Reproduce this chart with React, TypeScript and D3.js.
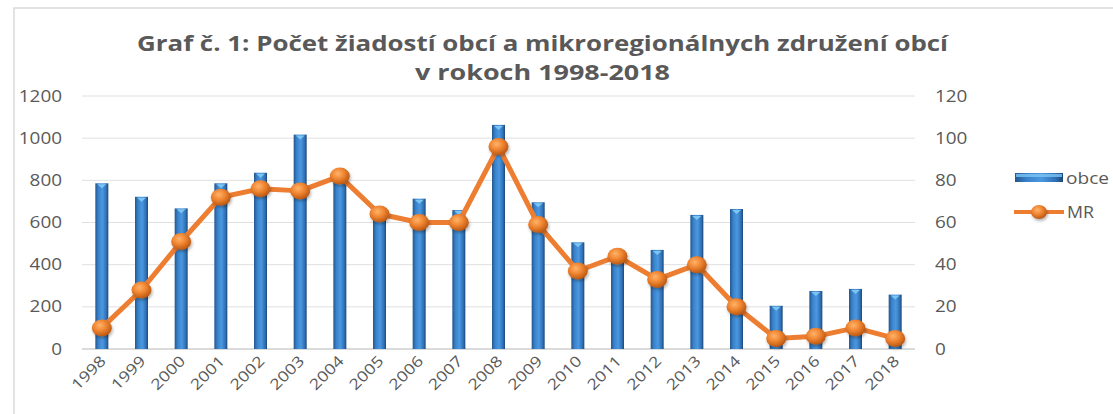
import React from 'react';
import * as d3 from 'd3';

const years = ['1998', '1999', '2000', '2001', '2002', '2003', '2004', '2005', '2006', '2007', '2008', '2009', '2010', '2011', '2012', '2013', '2014', '2015', '2016', '2017', '2018'];
const obce = [786, 722, 667, 786, 836, 1017, 802, 630, 713, 659, 1063, 696, 506, 422, 470, 636, 664, 205, 275, 285, 258];
const mr = [10, 28, 51, 72, 76, 75, 82, 64, 60, 60, 96, 59, 37, 44, 33, 40, 20, 5, 6, 10, 5];
const leftTicks = [0, 200, 400, 600, 800, 1000, 1200];
const rightTicks = [0, 20, 40, 60, 80, 100, 120];

const W = 1113;
const H = 414;
const margin = { top: 96, right: 198, bottom: 65, left: 82 };
const textColor = '#595959';
const font = '"Open Sans", "Liberation Sans", sans-serif';

export default function App() {
  const x = d3.scaleBand().domain(years).range([margin.left, W - margin.right]).paddingInner(0).paddingOuter(0);
  const yL = d3.scaleLinear().domain([0, 1200]).range([H - margin.bottom, margin.top]);
  const yR = d3.scaleLinear().domain([0, 120]).range([H - margin.bottom, margin.top]);
  const barW = 13;
  const cx = (y: string) => (x(y) ?? 0) + x.bandwidth() / 2;

  const line = d3.line<number>()
    .x((_, i) => cx(years[i]))
    .y(d => yR(d));

  // stretched tick labels, about 10.8px per digit like the source
  const digitW = 10.8;

  return (
    <svg width={W} height={H} style={{ position: 'absolute', left: 0, top: 0, background: '#fff' }} fontFamily={font}>
      <defs>
        <linearGradient id="barGrad" x1="0" x2="1" y1="0" y2="0">
          <stop offset="0%" stopColor="#23578f" />
          <stop offset="25%" stopColor="#3a83cc" />
          <stop offset="55%" stopColor="#4b98e0" />
          <stop offset="85%" stopColor="#2f6fb3" />
          <stop offset="100%" stopColor="#1b4677" />
        </linearGradient>
        <radialGradient id="dotGrad" cx="40%" cy="35%" r="70%">
          <stop offset="0%" stopColor="#ffb36b" />
          <stop offset="45%" stopColor="#f08632" />
          <stop offset="100%" stopColor="#b3510e" />
        </radialGradient>
        <filter id="shadow" x="-50%" y="-50%" width="200%" height="200%">
          <feDropShadow dx="1" dy="2" stdDeviation="1.5" floodColor="#000" floodOpacity="0.3" />
        </filter>
      </defs>

      {/* chart border */}
      <rect x={14} y={8} width={W + 10} height={H + 10} fill="#fff" stroke="#d9d9d9" strokeWidth={1.5} />

      {/* title */}
      <text x={137} y={51} fontSize={21} fontWeight="bold" fill={textColor} textLength={811} lengthAdjust="spacingAndGlyphs">
        Graf č. 1: Počet žiadostí obcí a mikroregionálnych združení obcí
      </text>
      <text x={415} y={80} fontSize={21} fontWeight="bold" fill={textColor} textLength={255} lengthAdjust="spacingAndGlyphs">
        v rokoch 1998-2018
      </text>

      {/* gridlines */}
      {leftTicks.map(t => (
        <line key={t} x1={margin.left} x2={W - margin.right} y1={yL(t)} y2={yL(t)} stroke={t === 0 ? '#cfcfcf' : '#e0e0e0'} strokeWidth={t === 0 ? 1.5 : 1} />
      ))}

      {/* left axis labels */}
      {leftTicks.map(t => (
        <text key={'l' + t} x={62} y={yL(t)} dy="0.35em" textAnchor="end" fontSize={16} fill={textColor}
          textLength={String(t).length * digitW} lengthAdjust="spacingAndGlyphs">{t}</text>
      ))}
      {/* right axis labels */}
      {rightTicks.map(t => (
        <text key={'r' + t} x={935} y={yR(t)} dy="0.35em" textAnchor="start" fontSize={16} fill={textColor}
          textLength={String(t).length * digitW} lengthAdjust="spacingAndGlyphs">{t}</text>
      ))}

      {/* bars */}
      {obce.map((v, i) => {
        const bx = cx(years[i]) - barW / 2;
        const by = yL(v);
        return (
          <g key={'b' + i}>
            <rect x={bx} y={by} width={barW} height={yL(0) - by} fill="url(#barGrad)" />
            <path d={`M${bx + 2},${by + 1}L${bx + barW - 2},${by + 1}L${bx + barW / 2},${by + 5}Z`} fill="#7cc4f2" />
          </g>
        );
      })}

      {/* line */}
      <path d={line(mr) ?? ''} fill="none" stroke="#ED7D31" strokeWidth={5} strokeLinejoin="round" />
      {mr.map((v, i) => (
        <ellipse key={'m' + i} cx={cx(years[i])} cy={yR(v)} rx={10} ry={8.5} fill="url(#dotGrad)" filter="url(#shadow)" />
      ))}

      {/* x axis labels */}
      {years.map(y => (
        <text key={'x' + y} transform={`translate(${cx(y) + 5},${362}) rotate(-45)`} textAnchor="end" fontSize={15} fill={textColor}
          textLength={41} lengthAdjust="spacingAndGlyphs">{y}</text>
      ))}

      {/* legend */}
      <rect x={1015} y={173} width={48} height={9} fill="url(#barGrad)" />
      <rect x={1016} y={174} width={46} height={3} fill="#7cc4f2" opacity={0.8} />
      <text x={1066} y={178} dy="0.35em" fontSize={16} fill={textColor} textLength={43} lengthAdjust="spacingAndGlyphs">obce</text>
      <line x1={1014} x2={1064} y1={212} y2={212} stroke="#ED7D31" strokeWidth={4} />
      <ellipse cx={1039} cy={212} rx={8} ry={7} fill="url(#dotGrad)" filter="url(#shadow)" />
      <text x={1067} y={212} dy="0.35em" fontSize={16} fill={textColor} textLength={27} lengthAdjust="spacingAndGlyphs">MR</text>
    </svg>
  );
}
